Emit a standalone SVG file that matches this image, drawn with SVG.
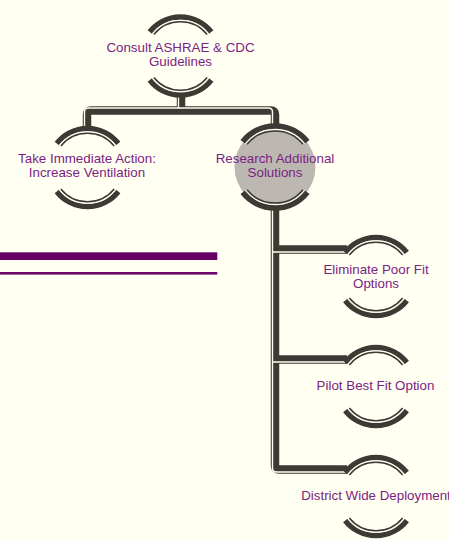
<svg xmlns="http://www.w3.org/2000/svg" xmlns:xlink="http://www.w3.org/1999/xlink" width="449" height="540" viewBox="0 0 449 540">
<style>
.band{fill:none;stroke:#3d3935;stroke-width:8.5;stroke-linejoin:round}
.hl{fill:none;stroke:#fffff2;stroke-width:1.4;stroke-linejoin:round}
.thick{fill:none;stroke:#3d3935;stroke-width:5.5}
.gap{fill:none;stroke:#fffff2;stroke-width:1.3}
.thin{fill:none;stroke:#3d3935;stroke-width:1.5}
.lbl{font-family:"Liberation Sans",Arial,sans-serif;font-size:13.33px;fill:#7b2383;text-anchor:middle}
</style>
<defs>
<g id="ring">
<path class="thick" d="M-30.73,-24.01 A39,39 0 0 1 30.73,-24.01 M-30.73,24.01 A39,39 0 0 0 30.73,24.01"/>
<path class="gap" d="M-28.13,-21.98 A35.7,35.7 0 0 1 28.13,-21.98 M-28.13,21.98 A35.7,35.7 0 0 0 28.13,21.98"/>
<path class="thin" d="M-26.66,-21.59 A34.3,34.3 0 0 1 26.66,-21.59 M-26.66,21.59 A34.3,34.3 0 0 0 26.66,21.59"/>
</g>
</defs>
<rect width="449" height="540" fill="#fffff2"/>
<g id="bars">
<rect x="0" y="252.3" width="217.3" height="7.7" fill="#660066"/>
<rect x="0" y="272" width="217.3" height="2.6" fill="#6a086a"/>
</g>
<g id="connectors">
<path class="band" d="M181,96 V110.5"/>
<path class="band" d="M275,128 V114.5 Q275,110.5 271,110.5 H91 Q87,110.5 87,114.5 V128.5"/>
<path class="hl" d="M178.5,96 V108"/>
<path class="hl" d="M272.5,125.5 V112 Q272.5,108 268.5,108 H88.5 Q84.5,108 84.5,112 V128.5"/>
<path class="band" d="M275,205 V465.5 Q275,469.5 279,469.5 H347 M275,249.5 H347 M275,359.5 H347"/>
<path class="hl" d="M272.5,208.5 V468 Q272.5,472 276.5,472 H345 M272.5,252 H345 M272.5,362 H345"/>
</g>
<g id="consult">
<use xlink:href="#ring" transform="translate(180.5,56)"/>
<text class="lbl" x="180.5" y="52">Consult ASHRAE &amp; CDC</text>
<text class="lbl" x="180.5" y="66">Guidelines</text>
</g>
<g id="take-action">
<use xlink:href="#ring" transform="translate(87.5,167.5)"/>
<text class="lbl" x="87" y="163">Take Immediate Action:</text>
<text class="lbl" x="87" y="177">Increase Ventilation</text>
</g>
<g id="research">
<circle cx="275" cy="167" r="40.5" fill="#bcb8b1"/>
<use xlink:href="#ring" transform="translate(275,167) scale(1.05)"/>
<text class="lbl" x="275" y="162.5">Research Additional</text>
<text class="lbl" x="275" y="176.5">Solutions</text>
</g>
<g id="eliminate">
<use xlink:href="#ring" transform="translate(376,276.5)"/>
<text class="lbl" x="376" y="273.5">Eliminate Poor Fit</text>
<text class="lbl" x="376" y="287.5">Options</text>
</g>
<g id="pilot">
<use xlink:href="#ring" transform="translate(376,386.5)"/>
<text class="lbl" x="375.5" y="389.5">Pilot Best Fit Option</text>
</g>
<g id="district">
<use xlink:href="#ring" transform="translate(376,496.5)"/>
<text class="lbl" x="376" y="499.5">District Wide Deployment</text>
</g>
</svg>
